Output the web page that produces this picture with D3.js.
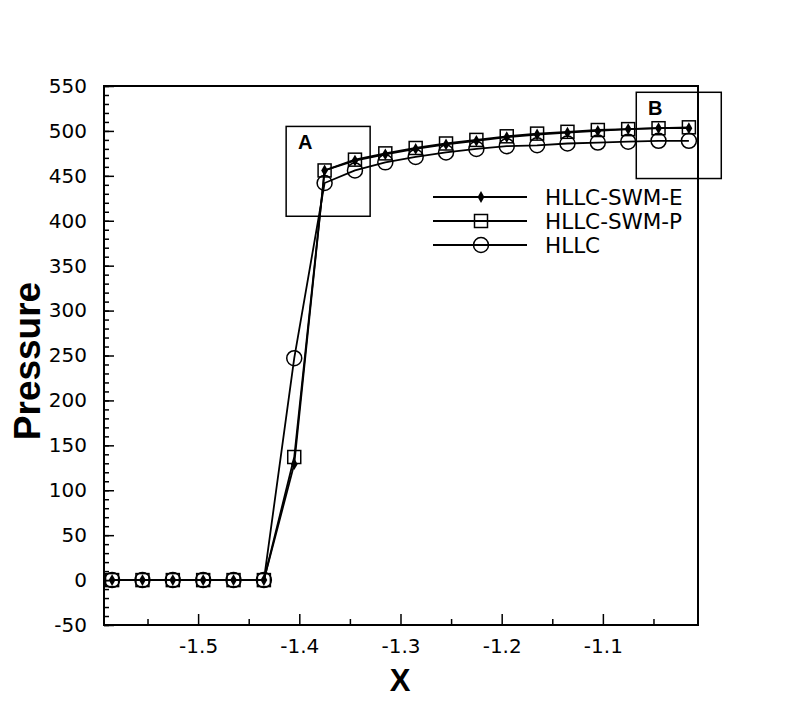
<!DOCTYPE html>
<html>
<head>
<meta charset="utf-8">
<script src="https://cdn.jsdelivr.net/npm/d3@7"></script>
<style>
  body { margin: 0; background: #fff; }
  svg { display: block; }
  .tick text { font-family: "DejaVu Sans", sans-serif; font-size: 20px; fill: #000; }
  .tick line { stroke: #000; stroke-width: 1.5px; }
  .domain { display: none; }
</style>
</head>
<body>
<div id="chart"></div>
<script>
// x positions of the cells
const xVals = [-1.585, -1.555, -1.525, -1.495, -1.465, -1.435, -1.405, -1.375, -1.345, -1.315,
               -1.285, -1.255, -1.225, -1.195, -1.165, -1.135, -1.105, -1.075, -1.045, -1.015]
// pressure for each scheme
const hllcSwmE = [0, 0, 0, 0, 0, 0, 129, 456, 467, 474, 480, 485, 489, 493, 496, 498, 500, 502, 503, 503]
const hllcSwmP = [0, 0, 0, 0, 0, 0, 137, 456, 468, 475, 481, 486, 490, 494, 497, 499, 501, 502, 503, 504]
const hllc     = [0, 0, 0, 0, 0, 0, 247, 442, 456, 465, 471, 476, 480, 483, 484, 486, 487, 488, 489, 489]
const seriesNames = ['HLLC-SWM-E', 'HLLC-SWM-P', 'HLLC']
const markerTypes = ['diamond', 'square', 'circle']

const xTicks = [-1.5, -1.4, -1.3, -1.2, -1.1]
const xMinor = [-1.55, -1.45, -1.35, -1.25, -1.15, -1.05]
const yTicks = [-50, 0, 50, 100, 150, 200, 250, 300, 350, 400, 450, 500, 550]
const yMinor = d3.range(-50, 551, 10)

// zoom boxes drawn on the plot
const boxNames = ['A', 'B']
const boxX = [[-1.413, -1.330], [-1.067, -0.983]]
const boxY = [[405, 505], [447, 543]]

const width = 792, height = 704
const plotL = 104, plotR = 698, plotT = 86, plotB = 625

const svg = d3.select('#chart').append('svg')
  .attr('width', width).attr('height', height)
  .style('background', '#fff')

const x = d3.scaleLinear().domain([-1.593, -1.006]).range([plotL, plotR])
const y = d3.scaleLinear().domain([-50, 550]).range([plotB, plotT])

// minor ticks first, then the major ones with labels
svg.append('g').attr('transform', 'translate(0,' + plotB + ')')
  .call(d3.axisBottom(x).tickValues(xMinor).tickSize(-6).tickFormat(''))
svg.append('g').attr('transform', 'translate(0,' + plotB + ')')
  .call(d3.axisBottom(x).tickValues(xTicks).tickSize(-11).tickPadding(14).tickFormat(d3.format('.1f')))
svg.append('g').attr('transform', 'translate(' + plotL + ',0)')
  .call(d3.axisLeft(y).tickValues(yMinor).tickSize(-5).tickFormat(''))
svg.append('g').attr('transform', 'translate(' + plotL + ',0)')
  .call(d3.axisLeft(y).tickValues(yTicks).tickSize(-10).tickPadding(17).tickFormat(d3.format('d')))

// plain hyphen for minus like the original
svg.selectAll('.tick text').text(function(){ return d3.select(this).text().replace('\u2212', '-') })

// frame
svg.append('rect').attr('x', plotL).attr('y', plotT)
  .attr('width', plotR - plotL).attr('height', plotB - plotT)
  .attr('fill', 'none').attr('stroke', '#000').attr('stroke-width', 2)

// axis titles
svg.append('text').attr('x', 400).attr('y', 691).attr('text-anchor', 'middle')
  .style('font-family', '"Liberation Sans", Arial, sans-serif').style('font-weight', 'bold')
  .style('font-size', '31px').text('X')
svg.append('text').attr('transform', 'translate(40,361) rotate(-90)').attr('text-anchor', 'middle')
  .style('font-family', '"Liberation Sans", Arial, sans-serif').style('font-weight', 'bold')
  .style('font-size', '37px').text('Pressure')

const allSeries = [hllcSwmE, hllcSwmP, hllc]
const line = d3.line().x((d, i) => x(xVals[i])).y(d => y(d))

// draw one marker of a given type at (cx, cy)
function marker(g, type, cx, cy){
  if(type === 'diamond'){
    g.append('path').attr('d', d3.symbol(d3.symbolDiamond, 40)())
      .attr('transform', 'translate(' + cx + ',' + cy + ')').attr('fill', '#000')
  } else if(type === 'square'){
    g.append('rect').attr('x', cx - 6.5).attr('y', cy - 6.5).attr('width', 13).attr('height', 13)
      .attr('fill', 'none').attr('stroke', '#000').attr('stroke-width', 1.5)
  } else {
    g.append('circle').attr('cx', cx).attr('cy', cy).attr('r', 7.5)
      .attr('fill', 'none').attr('stroke', '#000').attr('stroke-width', 1.5)
  }
}

// lines
allSeries.forEach(function(s){
  svg.append('path').datum(s).attr('d', line)
    .attr('fill', 'none').attr('stroke', '#000').attr('stroke-width', 1.8)
})
// markers, circles below so the others sit on top
;[2, 1, 0].forEach(function(k){
  const g = svg.append('g')
  allSeries[k].forEach(function(v, i){ marker(g, markerTypes[k], x(xVals[i]), y(v)) })
})

// zoom boxes
boxNames.forEach(function(name, i){
  svg.append('rect').attr('x', x(boxX[i][0])).attr('y', y(boxY[i][1]))
    .attr('width', x(boxX[i][1]) - x(boxX[i][0])).attr('height', y(boxY[i][0]) - y(boxY[i][1]))
    .attr('fill', 'none').attr('stroke', '#000').attr('stroke-width', 1.5)
  svg.append('text').attr('x', x(boxX[i][0]) + 19).attr('y', y(boxY[i][1]) + 23)
    .attr('text-anchor', 'middle')
    .style('font-family', '"Liberation Sans", Arial, sans-serif').style('font-weight', 'bold')
    .style('font-size', '20px').text(name)
})

// legend
const legend = svg.append('g').attr('transform', 'translate(433,197)')
seriesNames.forEach(function(name, i){
  const row = legend.append('g').attr('transform', 'translate(0,' + i * 24 + ')')
  row.append('line').attr('x1', 0).attr('x2', 94).attr('y1', 0).attr('y2', 0)
    .attr('stroke', '#000').attr('stroke-width', 1.8)
  marker(row, markerTypes[i], 48, 0)
  row.append('text').attr('x', 112).attr('y', 0).attr('dy', '0.36em')
    .style('font-family', '"DejaVu Sans", sans-serif').style('font-size', '21.5px').text(name)
})
</script>
</body>
</html>
